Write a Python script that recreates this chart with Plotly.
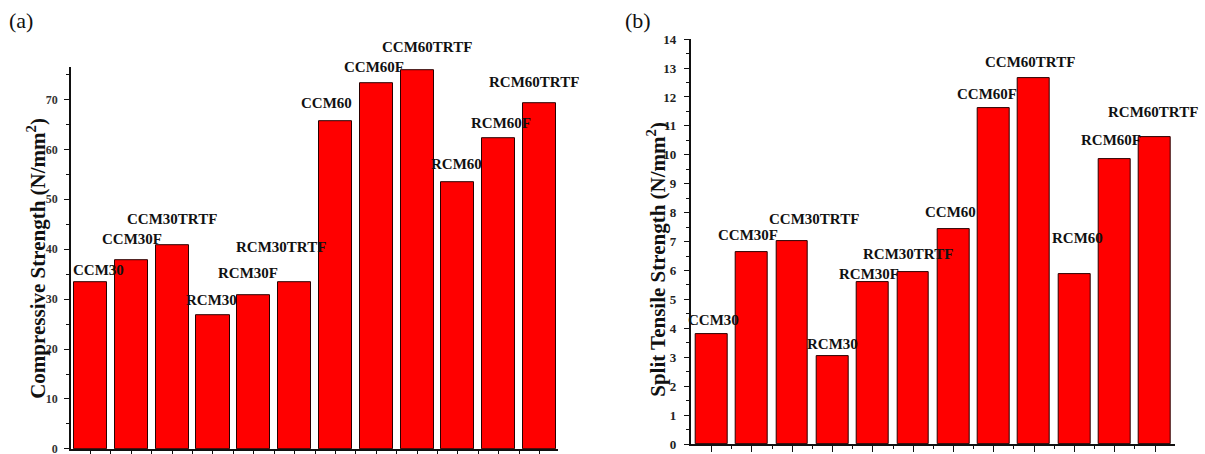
import plotly.graph_objects as go

categories = ["CCM30", "CCM30F", "CCM30TRTF", "RCM30", "RCM30F", "RCM30TRTF",
              "CCM60", "CCM60F", "CCM60TRTF", "RCM60", "RCM60F", "RCM60TRTF"]
compressive = [33.4, 37.8, 40.8, 26.7, 30.7, 33.4, 65.7, 73.2, 75.9, 53.4, 62.2, 69.2]
split_tensile = [3.79, 6.65, 7.03, 3.03, 5.61, 5.95, 7.43, 11.62, 12.66, 5.87, 9.86, 10.61]
y_ticks_a = [0, 10, 20, 30, 40, 50, 60, 70]
y_ticks_b = list(range(0, 15))

# label placement offsets (pixels) - style only
dx_a = [8, 1, 0, -1, -6, -14, -9, -2, 10, -1, 2, -6]
dy_a = [12, 20, 25, 15, 22, 34, 17, 16, 22, 18, 15, 21]
dx_b = [2, -4, 22, 0, -4, -5, -3, -7, -4, 3, -4, -2]
dy_b = [14, 16, 21, 12, 8, 17, 17, 13, 15, 35, 18, 24]

W, HF = 1205, 470
SC, OFF = 0.965, 7.0   # observed vertical mapping of the photographed page


def fy(t):
    """paper fraction for a target vertical pixel position in the picture"""
    return 1 - ((t - OFF) / SC) / HF


SERIF = "Liberation Serif"
RED = "#ff0000"

xs = list(range(len(categories)))

fig = go.Figure()
fig.add_trace(go.Bar(x=xs, y=compressive, width=0.81, marker=dict(color=RED, line=dict(color="#2a0000", width=1)),
                     xaxis="x", yaxis="y", showlegend=False, cliponaxis=False))
fig.add_trace(go.Bar(x=xs, y=split_tensile, width=0.79, marker=dict(color=RED, line=dict(color="#2a0000", width=1)),
                     xaxis="x2", yaxis="y2", showlegend=False, cliponaxis=False))

lab_font = dict(family=SERIF, size=15, color="#111", weight="bold")
annotations = []
for i, (c, v) in enumerate(zip(categories, compressive)):
    annotations.append(dict(x=i, y=v, xref="x", yref="y", text=c, showarrow=False,
                            xanchor="center", yanchor="middle", xshift=dx_a[i], yshift=dy_a[i] / SC,
                            font=lab_font))
for i, (c, v) in enumerate(zip(categories, split_tensile)):
    annotations.append(dict(x=i, y=v, xref="x2", yref="y2", text=c, showarrow=False,
                            xanchor="center", yanchor="middle", xshift=dx_b[i], yshift=dy_b[i] / SC,
                            font=lab_font))

# axis titles
title_font = dict(family=SERIF, size=21, color="#111", weight="bold")
annotations.append(dict(x=37 / W, y=fy(258), xref="paper", yref="paper",
                        text="Compressive Strength (N/mm<sup>2</sup>)", textangle=-90, showarrow=False,
                        xanchor="center", yanchor="middle", font=title_font))
annotations.append(dict(x=657 / W, y=fy(258), xref="paper", yref="paper",
                        text="Split Tensile Strength (N/mm<sup>2</sup>)", textangle=-90, showarrow=False,
                        xanchor="center", yanchor="middle", font=title_font))
# panel labels
annotations.append(dict(x=21 / W, y=fy(20), xref="paper", yref="paper", text="(a)", showarrow=False,
                        xanchor="center", yanchor="middle", font=dict(family=SERIF, size=22, color="#111")))
annotations.append(dict(x=638 / W, y=fy(20), xref="paper", yref="paper", text="(b)", showarrow=False,
                        xanchor="center", yanchor="middle", font=dict(family=SERIF, size=22, color="#111")))

n = len(categories)
xcommon = dict(showline=True, linecolor="#111", linewidth=1.5, showgrid=False, zeroline=False,
               ticks="outside", ticklen=6, tickwidth=1.2, tickcolor="#111",
               tickmode="array", tickvals=xs, ticktext=[""] * n, showticklabels=False,
               minor=dict(tickmode="array", tickvals=[i + 0.5 for i in range(n)], ticks="outside",
                          ticklen=3, tickwidth=1, tickcolor="#111"))
ycommon = dict(showline=True, linecolor="#111", linewidth=1.5, showgrid=False, zeroline=False,
               ticks="outside", ticklen=5, tickwidth=1.2, tickcolor="#111")

fig.update_layout(
    width=W, height=HF, autosize=False,
    margin=dict(l=0, r=0, t=0, b=0),
    paper_bgcolor="white", plot_bgcolor="white",
    bargap=0,
    xaxis=dict(domain=[71 / W, 558 / W], range=[-0.478, 11.453], anchor="y", **xcommon),
    yaxis=dict(domain=[fy(447.5), fy(67.0)], range=[0, 76.45], anchor="x",
               tickmode="array", tickvals=y_ticks_a, ticklabelstandoff=4,
               tickfont=dict(family=SERIF, size=12, color="#333", weight="bold"),
               minor=dict(tickmode="array", tickvals=[t + 5 for t in y_ticks_a], ticks="outside",
                          ticklen=3, tickwidth=1, tickcolor="#111"),
               **ycommon),
    xaxis2=dict(domain=[690.7 / W, 1175 / W], range=[-0.52, 11.496], anchor="y2", **xcommon),
    yaxis2=dict(domain=[fy(442.7), fy(39)], range=[0, 14], anchor="x2",
                tickmode="array", tickvals=y_ticks_b, ticklabelstandoff=5,
                tickfont=dict(family=SERIF, size=13, color="#222", weight="bold"),
                minor=dict(tickmode="array", tickvals=[t + 0.5 for t in y_ticks_b[:-1]], ticks="outside",
                           ticklen=3, tickwidth=1, tickcolor="#111"),
                **ycommon),
    annotations=annotations,
)

fig.write_html("out.html",
               config={"responsive": False, "displayModeBar": False},
               post_script="document.body.style.margin='0px';document.body.style.overflow='hidden';")
